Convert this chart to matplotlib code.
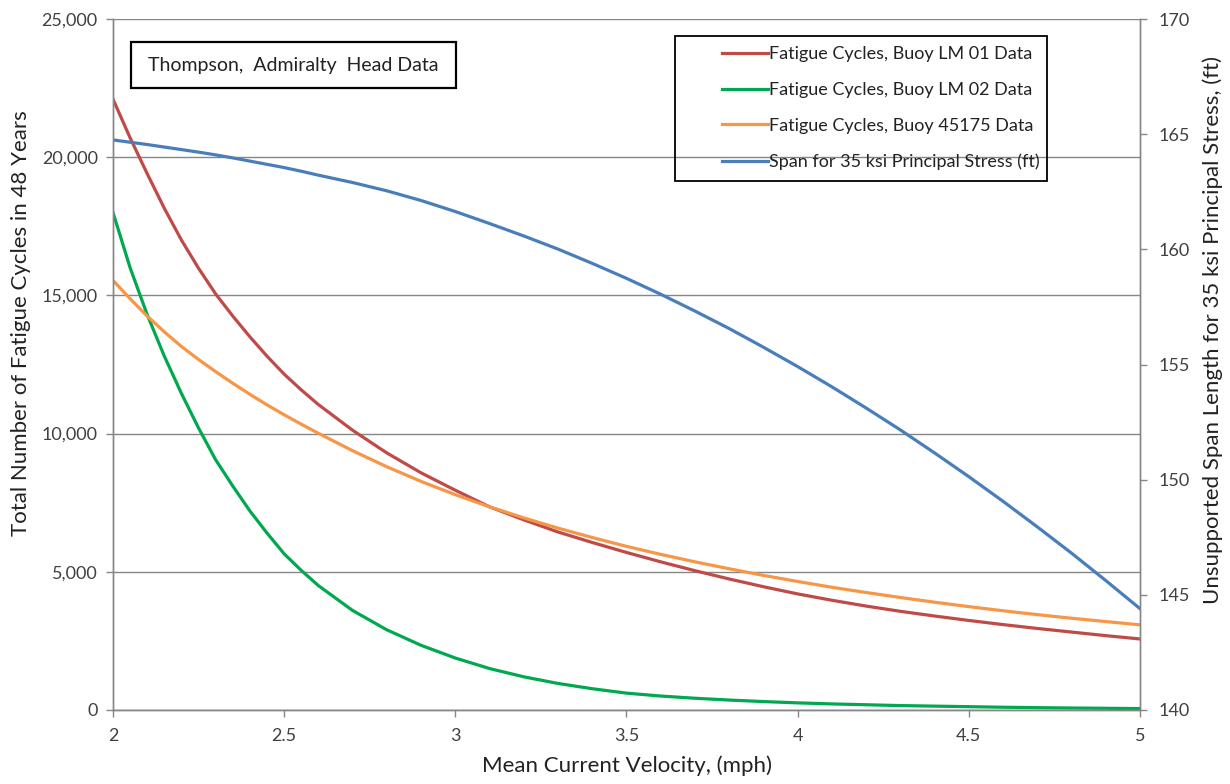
import matplotlib
matplotlib.use('Agg')
import matplotlib.pyplot as plt
from matplotlib.patches import Rectangle
from matplotlib.ticker import FuncFormatter, MultipleLocator

plt.rcParams['font.family'] = ['Lato', 'DejaVu Sans']

# mean current velocity (mph), finer spacing where the curves bend hardest
velocity = [2.0, 2.05, 2.1, 2.15, 2.2, 2.25, 2.3, 2.35, 2.4, 2.45, 2.5, 2.55, 2.6, 2.7, 2.8, 2.9,
            3.0, 3.1, 3.2, 3.3, 3.4, 3.5, 3.6, 3.7, 3.8, 3.9,
            4.0, 4.1, 4.2, 4.3, 4.4, 4.5, 4.6, 4.7, 4.8, 4.9, 5.0]

# total fatigue cycles in 48 years
cycles_lm01 = [22100, 20700, 19400, 18150, 17000, 15980, 15050, 14250, 13500, 12800, 12150, 11580,
               11050, 10120, 9300, 8580,
               7950, 7350, 6880, 6440, 6060, 5700, 5360, 5040, 4740, 4460,
               4200, 3970, 3760, 3570, 3400, 3240, 3090, 2950, 2820, 2690, 2570]
cycles_lm02 = [18000, 16000, 14300, 12800, 11450, 10200, 9050, 8100, 7200, 6400, 5650, 5050,
               4500, 3600, 2900, 2340,
               1880, 1500, 1200, 960, 770, 610, 505, 425, 360, 305,
               258, 220, 190, 160, 140, 120, 100, 85, 72, 62, 52]
cycles_45175 = [15540, 14880, 14250, 13680, 13150, 12680, 12240, 11820, 11420, 11040, 10680, 10340,
                10010, 9380, 8800, 8270,
                7790, 7350, 6950, 6580, 6240, 5920, 5630, 5360, 5110, 4870,
                4650, 4440, 4250, 4070, 3900, 3740, 3590, 3450, 3320, 3200, 3080]

# unsupported span length for 35 ksi principal stress (ft)
span_ft = [164.75, 164.65, 164.55, 164.44, 164.33, 164.22, 164.10, 163.97, 163.83, 163.69, 163.55, 163.39,
           163.22, 162.90, 162.54, 162.12,
           161.64, 161.12, 160.58, 160.01, 159.39, 158.74, 158.05, 157.32, 156.56, 155.75,
           154.91, 154.03, 153.11, 152.16, 151.16, 150.13, 149.06, 147.95, 146.81, 145.62, 144.40]

labels = ['Fatigue Cycles, Buoy LM 01 Data',
          'Fatigue Cycles, Buoy LM 02 Data',
          'Fatigue Cycles, Buoy 45175 Data',
          'Span for 35 ksi Principal Stress (ft)']
colors = ['#BE4B48', '#00A84F', '#F79646', '#4A7EBB']

axis_gray = '#868686'
text_gray = '#404040'
W, H = 1230, 784


def fig_box(x0, y0, x1, y1):
    # pixel box (top-left origin) -> figure fraction rectangle
    return (x0 / W, 1 - y1 / H), (x1 - x0) / W, (y1 - y0) / H


fig = plt.figure(figsize=(W / 100, H / 100), dpi=100)
ax = fig.add_axes([113 / W, 1 - 710 / H, (1140 - 113) / W, (710 - 19) / H])
ax2 = ax.twinx()

lw = 2.3
l1, = ax.plot(velocity, cycles_lm01, color=colors[0], lw=lw, label=labels[0])
l2, = ax.plot(velocity, cycles_lm02, color=colors[1], lw=lw, label=labels[1])
l3, = ax.plot(velocity, cycles_45175, color=colors[2], lw=lw, label=labels[2])
l4, = ax2.plot(velocity, span_ft, color=colors[3], lw=lw, label=labels[3])

ax.set_xlim(2, 5)
ax.set_ylim(0, 25000)
ax2.set_ylim(140, 170)
ax.xaxis.set_major_locator(MultipleLocator(0.5))
ax.yaxis.set_major_locator(MultipleLocator(5000))
ax2.yaxis.set_major_locator(MultipleLocator(5))
ax.xaxis.set_major_formatter(FuncFormatter(lambda v, p: '%g' % v))
ax.yaxis.set_major_formatter(FuncFormatter(lambda v, p: '{:,.0f}'.format(v)))

ax.grid(axis='y', color=axis_gray, lw=1)
ax.set_axisbelow(True)

for a in (ax, ax2):
    a.spines['top'].set_visible(False)
    for side in ('left', 'right', 'bottom'):
        a.spines[side].set_color(axis_gray)
        a.spines[side].set_linewidth(1)
    a.tick_params(colors=axis_gray, labelcolor=text_gray, labelsize=13,
                  length=5, width=1, direction='out')
ax.tick_params(axis='x', pad=8)
ax.tick_params(axis='y', pad=6)
ax2.tick_params(axis='y', pad=8)

ax.set_xlabel('Mean Current Velocity, (mph)', fontsize=16, color='#222222', labelpad=8)
ax.set_ylabel('Total Number of Fatigue Cycles in 48 Years', fontsize=16, color='#222222')
ax2.set_ylabel('Unsupported Span Length for 35 ksi Principal Stress, (ft)', fontsize=16,
               color='#222222')
ax.yaxis.set_label_coords(-0.08, 0.56)
ax2.yaxis.set_label_coords(1.061, 0.55)

# legend with a plain black box around it
leg = ax2.legend(handles=[l1, l2, l3, l4], loc='upper right',
                 bbox_to_anchor=(1040 / W, 1 - 46 / H), bbox_transform=fig.transFigure,
                 fontsize=13, frameon=False, handlelength=2.5,
                 handletextpad=0.1, labelspacing=1.1, borderpad=0, borderaxespad=0)
for t in leg.get_texts():
    t.set_color('#222222')
xy, w, h = fig_box(675, 36, 1047, 181)
fig.patches.append(Rectangle(xy, w, h, transform=fig.transFigure, fill=False,
                             ec='black', lw=1.3, zorder=5))

# site annotation box
xy, w, h = fig_box(131, 42, 456, 88)
fig.patches.append(Rectangle(xy, w, h, transform=fig.transFigure, fc='white',
                             ec='black', lw=1.6, zorder=5))
fig.text(293.5 / W, 1 - 65 / H, 'Thompson,  Admiralty  Head Data', ha='center', va='center',
         fontsize=14, color='#222222', zorder=6)

fig.savefig('out.png', dpi=100)
